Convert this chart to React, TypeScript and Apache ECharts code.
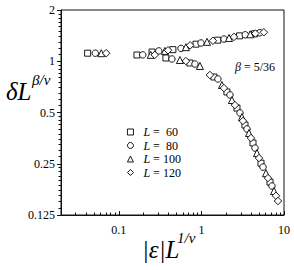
import React, { useEffect, useRef } from "react";
import * as echarts from "echarts";

const seriesNames = ["L = 60", "L = 80", "L = 100", "L = 120"];
const legendValues = [" 60", " 80", "100", "120"];
const seriesSymbols = ["rect", "circle", "triangle", "diamond"];
const seriesSizes: (number | number[])[] = [6, 6.5, 7, 7.5];

// |eps| L^{1/nu}, delta L^{beta/nu}
const dataL60: [number, number][] = [
  [0.042, 1.115],
  [0.166, 1.088], [0.253, 1.133], [0.452, 1.17], [0.86, 1.26], [1.58, 1.33], [2.9, 1.41], [4.4, 1.45],
  [0.372, 1.045], [0.726, 0.977], [1.419, 0.808], [2.038, 0.66], [2.697, 0.531], [3.371, 0.422],
  [4.214, 0.331], [5.27, 0.252], [6.77, 0.195],
];
const dataL80: [number, number][] = [
  [0.052, 1.115],
  [0.195, 1.09], [0.305, 1.15], [0.567, 1.19], [0.99, 1.28], [1.88, 1.35], [3.4, 1.43], [5.1, 1.47],
  [0.44, 1.031], [0.836, 0.963], [1.585, 0.787], [2.218, 0.634], [2.931, 0.497], [3.565, 0.4],
  [4.456, 0.309], [5.57, 0.239], [7.16, 0.185],
];
const dataL100: [number, number][] = [
  [0.0615, 1.115],
  [0.244, 1.09], [0.362, 1.15], [0.65, 1.21], [1.17, 1.3], [2.16, 1.37], [3.9, 1.44],
  [0.55, 1.017], [0.96, 0.938], [1.774, 0.725], [2.344, 0.592], [3.097, 0.47], [3.77, 0.379],
  [4.711, 0.289], [6.05, 0.22], [7.57, 0.173],
];
const dataL120: [number, number][] = [
  [0.0705, 1.115],
  [0.273, 1.09], [0.395, 1.16], [0.73, 1.24], [1.38, 1.32], [2.48, 1.39], [4.5, 1.455], [5.7, 1.48],
  [0.65, 1.003], [1.268, 0.83], [1.875, 0.696], [2.547, 0.553], [3.186, 0.446], [3.985, 0.354],
  [4.981, 0.27], [6.4, 0.206], [8.0, 0.162], [8.46, 0.151],
];
const allData = [dataL60, dataL80, dataL100, dataL120];

const xMajorTicks = [0.1, 1, 10];
const xMinorTicks = [
  0.03, 0.04, 0.05, 0.06, 0.07, 0.08, 0.09,
  0.2, 0.3, 0.4, 0.5, 0.6, 0.7, 0.8, 0.9,
  2, 3, 4, 5, 6, 7, 8, 9,
];
const yMajorTicks = [0.125, 0.25, 0.5, 1, 2];
const yOctaves = [0.125, 0.25, 0.5, 1];
const yMinorSteps = [1.1, 1.2, 1.3, 1.4, 1.5, 1.6, 1.7, 1.8, 1.9];
const yMinorTicks = yOctaves.flatMap((o) => yMinorSteps.map((s) => o * s));

const SERIF = "'Liberation Serif', 'Times New Roman', serif";
const AX = "#111";

function fmt(v: number) {
  return String(parseFloat(Number(v).toPrecision(6)));
}

export default function App() {
  const ref = useRef<HTMLDivElement>(null);
  useEffect(() => {
    if (!ref.current) return;
    const chart = echarts.init(ref.current, undefined, { renderer: "svg" });
    const xBase = {
      type: "log" as const,
      logBase: 10,
      min: 0.02,
      max: 10,
      gridIndex: 0,
      position: "bottom" as const,
      splitLine: { show: false },
    };
    const yBase = {
      type: "log" as const,
      logBase: 2,
      min: 0.125,
      max: 2,
      gridIndex: 0,
      position: "left" as const,
      splitLine: { show: false },
    };
    chart.setOption({
      animation: false,
      backgroundColor: "#fff",
      grid: {
        left: 61,
        top: 10,
        width: 223,
        height: 205,
        show: true,
        borderColor: AX,
        borderWidth: 1,
        backgroundColor: "transparent",
      },
      xAxis: [
        {
          ...xBase,
          axisLine: { show: true, lineStyle: { color: AX, width: 1 } },
          axisTick: { show: true, inside: true, length: 4, customValues: xMajorTicks, lineStyle: { color: AX } },
          axisLabel: {
            show: true,
            customValues: xMajorTicks,
            margin: 9,
            fontFamily: SERIF,
            fontSize: 12,
            color: "#000",
            formatter: (v: number) => fmt(v),
          },
        },
        {
          ...xBase,
          axisLine: { show: false },
          axisTick: { show: true, inside: true, length: 2.5, customValues: xMinorTicks, lineStyle: { color: AX } },
          axisLabel: { show: false },
        },
      ],
      yAxis: [
        {
          ...yBase,
          axisLine: { show: true, lineStyle: { color: AX, width: 1 } },
          axisTick: { show: true, inside: false, length: 4, customValues: yMajorTicks, lineStyle: { color: AX } },
          axisLabel: {
            show: true,
            customValues: yMajorTicks,
            margin: 6,
            fontFamily: SERIF,
            fontSize: 12,
            color: "#000",
            formatter: (v: number) => fmt(v),
          },
        },
        {
          ...yBase,
          axisLine: { show: false },
          axisTick: { show: true, inside: false, length: 2.5, customValues: yMinorTicks, lineStyle: { color: AX } },
          axisLabel: { show: false },
        },
      ],
      legend: {
        orient: "vertical",
        left: 127,
        top: 126,
        itemWidth: 6,
        itemHeight: 6,
        itemGap: 1.5,
        padding: 0,
        data: seriesNames,
        itemStyle: { color: "#fff", borderColor: "#000", borderWidth: 0.9 },
        formatter: (name: string) => {
          const i = seriesNames.indexOf(name);
          return `{i|L} = ${legendValues[i]}`;
        },
        textStyle: {
          fontFamily: SERIF,
          fontSize: 12,
          color: "#000",
          lineHeight: 12,
          padding: [0, 0, 0, 5],
          rich: {
            i: { fontFamily: SERIF, fontSize: 12, fontStyle: "italic", color: "#000" },
          },
        },
      },
      graphic: [
        {
          type: "text",
          left: 6,
          top: 79,
          style: { text: "δL", font: `italic 25px ${SERIF}`, fill: "#000" },
        },
        {
          type: "text",
          left: 32,
          top: 72,
          style: { text: "β/ν", font: `italic 15px ${SERIF}`, fill: "#000" },
        },
        {
          type: "text",
          left: 142,
          top: 237,
          style: { text: "|ε|L", font: `italic 25px ${SERIF}`, fill: "#000" },
        },
        {
          type: "text",
          left: 177,
          top: 230,
          style: { text: "1/ν", font: `italic 15px ${SERIF}`, fill: "#000" },
        },
        {
          type: "text",
          left: 235,
          top: 61,
          style: {
            text: "{i|β} = 5/36",
            font: `12px ${SERIF}`,
            fill: "#000",
            rich: { i: { fontFamily: SERIF, fontSize: 12, fontStyle: "italic" } },
          },
        },
      ],
      series: allData.map((d, i) => ({
        name: seriesNames[i],
        type: "scatter",
        xAxisIndex: 0,
        yAxisIndex: 0,
        data: d,
        symbol: seriesSymbols[i],
        symbolSize: seriesSizes[i],
        itemStyle: { color: "#fff", borderColor: "#000", borderWidth: 0.9, opacity: 1 },
        emphasis: { disabled: true },
      })),
    });
    return () => chart.dispose();
  }, []);
  return (
    <div
      ref={ref}
      style={{ position: "fixed", left: 0, top: 0, width: 294, height: 270 }}
    />
  );
}
